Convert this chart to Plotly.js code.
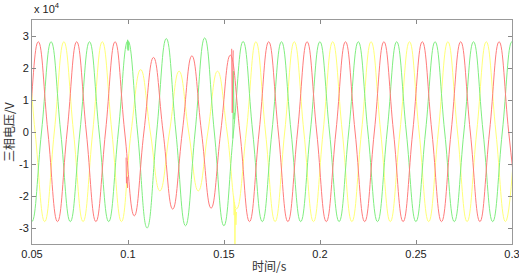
<!DOCTYPE html>
<html>
<head>
<meta charset="utf-8">
<script src="https://cdn.plot.ly/plotly-3.0.1.min.js"></script>
<style>html,body{margin:0;padding:0;background:#fff}#chart{width:519px;height:273px}</style>
</head>
<body>
<div id="chart"></div>
<script>
// Three-phase voltage, values in units of 1e4 V, sampled every quarter period (0.005 s)
// Phase A (red): first sample at t = 0.04328 s
const redStart = 0.04328;
const redV = [-2.80,0,2.82,0,-2.80,0,2.82,0,-2.80,0,2.82,0,-2.62,0,2.33,0,-2.41,0,2.38,0,-2.38,0,2.40,0,
  -2.80,0,2.82,0,-2.80,0,2.82,0,-2.80,0,2.82,0,-2.80,0,2.82,0,-2.80,0,2.82,0,-2.80,0,2.82,0,-2.80,0,2.82,0,-2.80];
// Phase B (green): first sample at t = 0.03995 s
const greenStart = 0.03995;
const greenV = [2.82,0,-2.80,0,2.82,0,-2.80,0,2.82,0,-2.80,0,2.85,0,-3.00,0,2.92,0,-2.93,0,2.94,0,-2.93,0,
  2.83,0,-2.80,0,2.82,0,-2.80,0,2.82,0,-2.80,0,2.82,0,-2.80,0,2.82,0,-2.80,0,2.82,0,-2.80,0,2.82,0,-2.80,0,2.82,0];
// Phase C (yellow): first sample at t = 0.03661 s
const yellowStart = 0.03661;
const yellowV = [-2.80,0,2.82,0,-2.80,0,2.82,0,-2.80,0,2.82,0,-2.80,0,1.95,0,-1.84,0,1.90,0,-1.84,0,1.90,0,
  -2.40,0,2.82,0,-2.80,0,2.82,0,-2.80,0,2.82,0,-2.80,0,2.82,0,-2.80,0,2.82,0,-2.80,0,2.82,0,-2.80,0,2.82,0,-2.80,0];
const sampleStep = 0.005;

// Switching transients (null separates the fault-onset and fault-clearing bursts)
const redGlitchT = [0.0990, 0.0992, 0.0995, 0.0998, null, 0.1540, 0.1543, 0.1545, 0.1548];
const redGlitchV = [-0.80, -1.60, -1.40, -1.75, null, 2.60, 0.60, 1.50, 2.55];
const greenGlitchT = [0.0996, 0.0998, 0.1000, 0.1002, 0.1004, null, 0.1546, 0.1549, 0.1552, 0.1555];
const greenGlitchV = [2.60, 2.88, 2.55, 2.82, 2.55, null, -0.20, 1.90, 0.40, 0.60];
const yellowGlitchT = [0.1550, 0.1553, 0.1555, 0.1557, 0.1559, 0.1562, 0.1565];
const yellowGlitchV = [-2.00, -2.60, -2.20, -3.55, -2.40, -2.90, -2.50];

const xTicks = [0.05, 0.1, 0.15, 0.2, 0.25, 0.3];
const xTickText = ['0.05', '0.1', '0.15', '0.2', '0.25', '0.3'];
const yTicks = [-3, -2, -1, 0, 1, 2, 3];
const yTickText = ['-3', '-2', '-1', '0', '1', '2', '3'];

const RED = '#ff7c7c', GREEN = '#80ee80', YELLOW = '#ffff78';
function wave(start, v, color) {
  return {type: 'scatter', mode: 'lines', x0: start, dx: sampleStep, y: v,
    line: {color: color, width: 1, shape: 'spline', smoothing: 1.3}, hoverinfo: 'skip'};
}
function glitch(t, v, color) {
  return {type: 'scatter', mode: 'lines', x: t, y: v, connectgaps: false,
    line: {color: color, width: 1}, hoverinfo: 'skip'};
}
const data = [
  wave(yellowStart, yellowV, YELLOW),
  wave(greenStart, greenV, GREEN),
  wave(redStart, redV, RED),
  glitch(yellowGlitchT, yellowGlitchV, YELLOW),
  glitch(greenGlitchT, greenGlitchV, GREEN),
  glitch(redGlitchT, redGlitchV, RED)
];
const axisFont = {family: 'Liberation Sans, Arial, sans-serif', size: 11, color: '#222'};
const layout = {
  width: 519, height: 273,
  margin: {l: 32, r: 7, t: 20, b: 29},
  paper_bgcolor: '#fff', plot_bgcolor: '#fff',
  showlegend: false,
  xaxis: {range: [0.05, 0.300001], tickmode: 'array', tickvals: xTicks, ticktext: xTickText,
    ticks: 'inside', ticklen: 4, tickcolor: '#888', showline: true, linecolor: '#999', linewidth: 1,
    mirror: 'allticks', showgrid: false, zeroline: false, tickfont: axisFont, ticklabeloverflow: 'allow'},
  yaxis: {range: [-3.5, 3.5], tickmode: 'array', tickvals: yTicks, ticktext: yTickText,
    ticks: 'inside', ticklen: 4, tickcolor: '#888', showline: true, linecolor: '#999', linewidth: 1,
    mirror: 'allticks', showgrid: false, zeroline: false, tickfont: axisFont},
  annotations: [
    {xref: 'paper', yref: 'paper', x: 0, y: 1, xanchor: 'left', yanchor: 'bottom', yshift: 3,
     text: 'x 10<sup>4</sup>', showarrow: false, font: axisFont},
    {xref: 'paper', yref: 'paper', x: 0.495, y: 0, xanchor: 'center', yanchor: 'middle', yshift: -21,
     text: '时间/s', showarrow: false,
     font: {family: 'Noto Sans CJK SC, sans-serif', size: 12, color: '#333'}},
    {xref: 'paper', yref: 'paper', x: 0, y: 0.5, xanchor: 'center', yanchor: 'middle', xshift: -24,
     text: '三相电压/V', textangle: -90, showarrow: false,
     font: {family: 'Noto Sans CJK SC, sans-serif', size: 12, color: '#333'}}
  ]
};
Plotly.newPlot('chart', data, layout, {staticPlot: true, displayModeBar: false});
</script>
</body>
</html>
